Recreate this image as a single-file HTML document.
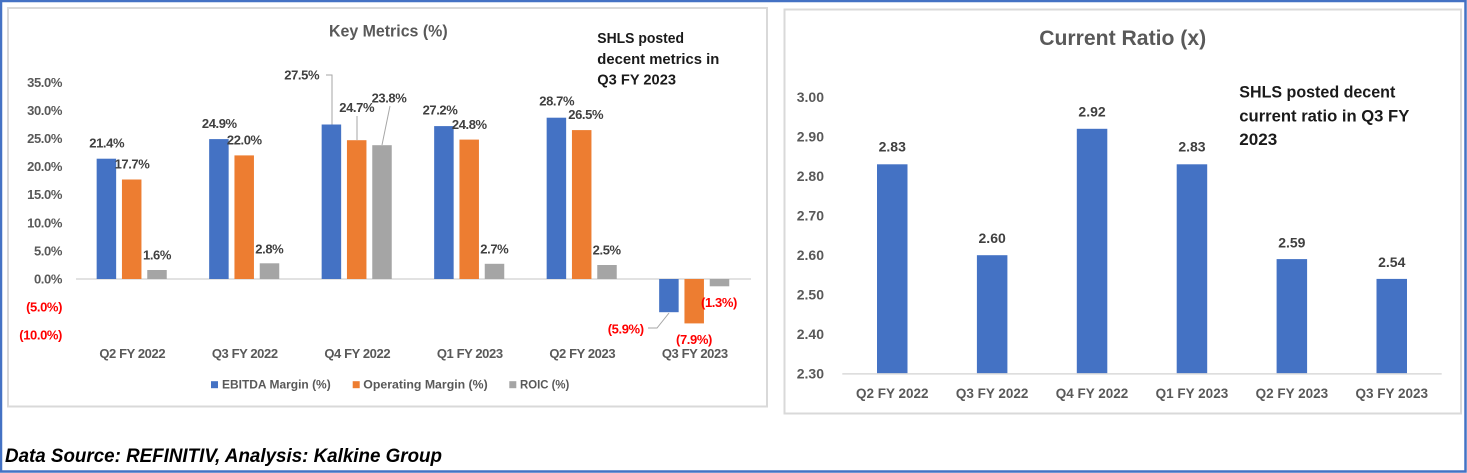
<!DOCTYPE html>
<html><head><meta charset="utf-8"><style>
html,body{margin:0;padding:0;background:#fff;}
svg{display:block;}
text{font-family:"Liberation Sans",Arial,sans-serif;font-weight:bold;}
</style></head><body>
<svg width="1467" height="473" viewBox="0 0 1467 473" xmlns="http://www.w3.org/2000/svg">
<rect x="0" y="0" width="1467" height="473" fill="#fff"/>
<rect x="1" y="1" width="1464.5" height="470.5" fill="none" stroke="#4472C4" stroke-width="2.5"/>
<rect x="8" y="8" width="759" height="398.5" fill="#fff" stroke="#d9d9d9" stroke-width="2"/>
<rect x="784.5" y="9.5" width="676.5" height="404" fill="#fff" stroke="#d9d9d9" stroke-width="2"/>

<!-- LEFT CHART -->
<text x="388.3" y="31.7" text-anchor="middle" dominant-baseline="central" font-size="16.5" fill="#595959" textLength="118.7" lengthAdjust="spacingAndGlyphs">Key Metrics (%)</text>
<g font-size="15" fill="#1a1a1a">
<text x="597.3" y="38.7" dominant-baseline="central" textLength="86.7" lengthAdjust="spacingAndGlyphs">SHLS posted</text>
<text x="597.3" y="59.3" dominant-baseline="central" textLength="122" lengthAdjust="spacingAndGlyphs">decent metrics in</text>
<text x="597.3" y="80" dominant-baseline="central" textLength="78.7" lengthAdjust="spacingAndGlyphs">Q3 FY 2023</text>
</g>
<g font-size="13" letter-spacing="-0.4" fill="#595959" text-anchor="end" dominant-baseline="central">
<text x="62" y="82.3">35.0%</text>
<text x="62" y="110.4">30.0%</text>
<text x="62" y="138.5">25.0%</text>
<text x="62" y="166.6">20.0%</text>
<text x="62" y="194.7">15.0%</text>
<text x="62" y="222.8">10.0%</text>
<text x="62" y="250.9">5.0%</text>
<text x="62" y="279">0.0%</text>
<text x="62" y="307.1" fill="#FF0000">(5.0%)</text>
<text x="62" y="335.2" fill="#FF0000">(10.0%)</text>
</g>
<line x1="76" y1="279" x2="751" y2="279" stroke="#d9d9d9" stroke-width="1.5"/>
<g>
<rect x="96.65" y="158.7" width="19.5" height="120.3" fill="#4472C4"/>
<rect x="121.95" y="179.5" width="19.5" height="99.5" fill="#ED7D31"/>
<rect x="147.25" y="270" width="19.5" height="9" fill="#A5A5A5"/>
<rect x="209.15" y="139.1" width="19.5" height="139.9" fill="#4472C4"/>
<rect x="234.45" y="155.4" width="19.5" height="123.6" fill="#ED7D31"/>
<rect x="259.75" y="263.3" width="19.5" height="15.7" fill="#A5A5A5"/>
<rect x="321.65" y="124.5" width="19.5" height="154.5" fill="#4472C4"/>
<rect x="346.95" y="140.2" width="19.5" height="138.8" fill="#ED7D31"/>
<rect x="372.25" y="145.2" width="19.5" height="133.8" fill="#A5A5A5"/>
<rect x="434.15" y="126.1" width="19.5" height="152.9" fill="#4472C4"/>
<rect x="459.45" y="139.6" width="19.5" height="139.4" fill="#ED7D31"/>
<rect x="484.75" y="263.8" width="19.5" height="15.2" fill="#A5A5A5"/>
<rect x="546.65" y="117.7" width="19.5" height="161.3" fill="#4472C4"/>
<rect x="571.95" y="130.1" width="19.5" height="148.9" fill="#ED7D31"/>
<rect x="597.25" y="265" width="19.5" height="14" fill="#A5A5A5"/>
<rect x="659.15" y="279" width="19.5" height="33.2" fill="#4472C4"/>
<rect x="684.45" y="279" width="19.5" height="44.4" fill="#ED7D31"/>
<rect x="709.75" y="279" width="19.5" height="7.3" fill="#A5A5A5"/>
</g>
<g stroke="#A6A6A6" stroke-width="1" fill="none">
<polyline points="326,75 332,75 332,124.5"/>
<line x1="357" y1="116" x2="357" y2="140"/>
<line x1="382" y1="145" x2="390" y2="106"/>
<polyline points="648,328 657,328 669,313"/>
</g>
<g font-size="13" letter-spacing="-0.4" fill="#404040" text-anchor="middle" dominant-baseline="central">
<text x="106.7" y="143">21.4%</text>
<text x="132" y="164">17.7%</text>
<text x="157" y="255">1.6%</text>
<text x="219.3" y="123.7">24.9%</text>
<text x="244.3" y="140">22.0%</text>
<text x="269.3" y="249">2.8%</text>
<text x="301.7" y="75">27.5%</text>
<text x="356.7" y="107.3">24.7%</text>
<text x="389" y="98">23.8%</text>
<text x="440" y="110">27.2%</text>
<text x="469.3" y="124.3">24.8%</text>
<text x="494.3" y="249">2.7%</text>
<text x="556.7" y="101">28.7%</text>
<text x="585.7" y="114.3">26.5%</text>
<text x="606.7" y="250">2.5%</text>
<text x="625.7" y="329" fill="#FF0000">(5.9%)</text>
<text x="694" y="339.3" fill="#FF0000">(7.9%)</text>
<text x="719" y="302.3" fill="#FF0000">(1.3%)</text>
</g>
<g font-size="13" letter-spacing="-0.4" fill="#595959" text-anchor="middle" dominant-baseline="central">
<text x="132.25" y="353.3">Q2 FY 2022</text>
<text x="244.75" y="353.3">Q3 FY 2022</text>
<text x="357.25" y="353.3">Q4 FY 2022</text>
<text x="469.75" y="353.3">Q1 FY 2023</text>
<text x="582.25" y="353.3">Q2 FY 2023</text>
<text x="694.75" y="353.3">Q3 FY 2023</text>
</g>
<rect x="211" y="381.2" width="7" height="7" fill="#4472C4"/>
<rect x="352.7" y="381.2" width="7" height="7" fill="#ED7D31"/>
<rect x="509.3" y="381.2" width="7" height="7" fill="#A5A5A5"/>
<g font-size="12" fill="#595959" dominant-baseline="central">
<text x="222" y="384.7" textLength="108.7" lengthAdjust="spacingAndGlyphs">EBITDA Margin (%)</text>
<text x="363.3" y="384.7" textLength="124.4" lengthAdjust="spacingAndGlyphs">Operating Margin (%)</text>
<text x="520" y="384.7" textLength="49.3" lengthAdjust="spacingAndGlyphs">ROIC (%)</text>
</g>

<!-- RIGHT CHART -->
<text x="1122.7" y="38.3" text-anchor="middle" dominant-baseline="central" font-size="21" fill="#595959" textLength="167" lengthAdjust="spacingAndGlyphs">Current Ratio (x)</text>
<g font-size="16.5" fill="#1a1a1a">
<text x="1239.3" y="92.3" dominant-baseline="central" textLength="156" lengthAdjust="spacingAndGlyphs">SHLS posted decent</text>
<text x="1239.3" y="116.3" dominant-baseline="central" textLength="170" lengthAdjust="spacingAndGlyphs">current ratio in Q3 FY</text>
<text x="1239.3" y="139.8" dominant-baseline="central" textLength="38" lengthAdjust="spacingAndGlyphs">2023</text>
</g>
<g font-size="14" fill="#595959" text-anchor="end" dominant-baseline="central">
<text x="824" y="97.2">3.00</text>
<text x="824" y="136.7">2.90</text>
<text x="824" y="176.2">2.80</text>
<text x="824" y="215.7">2.70</text>
<text x="824" y="255.2">2.60</text>
<text x="824" y="294.7">2.50</text>
<text x="824" y="334.2">2.40</text>
<text x="824" y="373.7">2.30</text>
</g>
<g fill="#4472C4">
<rect x="877" y="164.3" width="30.5" height="209.4"/>
<rect x="976.9" y="255.2" width="30.5" height="118.5"/>
<rect x="1076.8" y="128.8" width="30.5" height="244.9"/>
<rect x="1176.7" y="164.3" width="30.5" height="209.4"/>
<rect x="1276.6" y="259.1" width="30.5" height="114.6"/>
<rect x="1376.5" y="278.9" width="30.5" height="94.8"/>
</g>
<line x1="842.3" y1="373.9" x2="1441.7" y2="373.9" stroke="#d9d9d9" stroke-width="1.5"/>
<g font-size="14" fill="#404040" text-anchor="middle" dominant-baseline="central">
<text x="892.25" y="146.7">2.83</text>
<text x="992.15" y="238">2.60</text>
<text x="1092.05" y="111.7">2.92</text>
<text x="1191.95" y="146.7">2.83</text>
<text x="1291.85" y="242.3">2.59</text>
<text x="1391.75" y="262">2.54</text>
</g>
<g font-size="13.5" fill="#595959" text-anchor="middle" dominant-baseline="central">
<text x="892.25" y="393.7">Q2 FY 2022</text>
<text x="992.15" y="393.7">Q3 FY 2022</text>
<text x="1092.05" y="393.7">Q4 FY 2022</text>
<text x="1191.95" y="393.7">Q1 FY 2023</text>
<text x="1291.85" y="393.7">Q2 FY 2023</text>
<text x="1391.75" y="393.7">Q3 FY 2023</text>
</g>

<!-- FOOTER -->
<text x="5" y="456.7" dominant-baseline="central" font-size="19" font-style="italic" fill="#000" textLength="437" lengthAdjust="spacingAndGlyphs">Data Source: REFINITIV, Analysis: Kalkine Group</text>
</svg>
</body></html>
